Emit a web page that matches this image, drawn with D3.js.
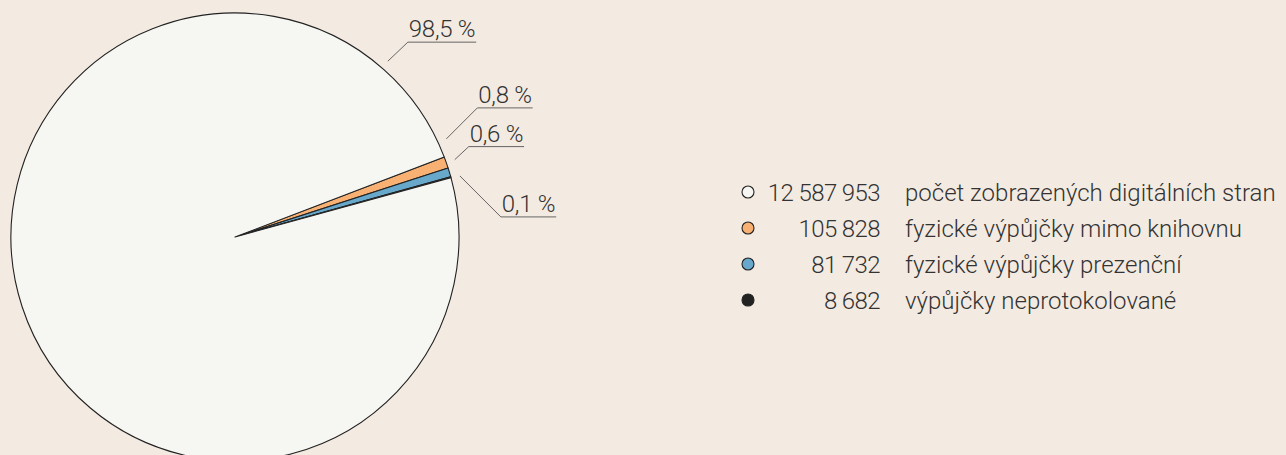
<!DOCTYPE html>
<html>
<head>
<meta charset="utf-8">
<script src="https://cdn.jsdelivr.net/npm/d3@7"></script>
<style>
  html, body { margin: 0; padding: 0; background: #f3ebe2; }
  svg { display: block; }
  text { font-family: Roboto, "Noto Sans", sans-serif; font-weight: 300; fill: #333; }
</style>
</head>
<body>
<svg id="chart"></svg>
<script>
// data, in the order the pie draws it (clockwise from the orange wedge)
var categories = ['fyzické výpůjčky mimo knihovnu', 'fyzické výpůjčky prezenční',
                  'výpůjčky neprotokolované', 'počet zobrazených digitálních stran'];
var values = [105828, 81732, 8682, 12587953];
var percentLabels = ['0,8 %', '0,6 %', '0,1 %', '98,5 %'];
var valueLabels = ['105 828', '81 732', '8 682', '12 587 953'];

// legend order differs from the drawing order
var legendOrder = [3, 0, 1, 2];

(function () {
  var width = 1286, height = 455;
  var cx = 235, cy = 237, radius = 224;
  var colors = ['#f8b073', '#68a8cb', '#222222', '#f6f6f2'];

  var svg = d3.select('#chart').attr('width', width).attr('height', height);

  var pie = d3.pie().sort(null)
      .startAngle(69.1 * Math.PI / 180)
      .endAngle(69.1 * Math.PI / 180 + 2 * Math.PI);
  var arc = d3.arc().innerRadius(0).outerRadius(radius);

  var g = svg.append('g').attr('transform', 'translate(' + cx + ',' + cy + ')');
  var arcs = pie(values);

  g.selectAll('path.slice')
    .data(arcs)
    .enter().append('path')
    .attr('class', 'slice')
    .attr('d', arc)
    .style('fill', function (d, i) { return colors[i]; })
    .style('stroke', '#222')
    .style('stroke-width', 1.1)
    .style('stroke-linejoin', 'round');

  // label leaders: angle on the rim, and the elbow offset from there
  var leaders = [
    {angle: 65.1, dx: 31, dy: -31},
    {angle: 70.6, dx: 14, dy: -13},
    {angle: 74.8, dx: 41, dy: 41},
    {angle: 41.0, dx: 20, dy: -19}
  ];
  var leaderR = radius + 9;

  leaders.forEach(function (l, i) {
    var a = l.angle * Math.PI / 180;
    var x0 = Math.sin(a) * leaderR, y0 = -Math.cos(a) * leaderR;
    var x1 = x0 + l.dx, y1 = y0 + l.dy;

    var t = g.append('text')
      .attr('x', x1 + 1)
      .attr('y', y1 - 5)
      .style('font-size', '24px')
      .style('letter-spacing', '-0.3px')
      .text(percentLabels[i]);
    var w = t.node().getComputedTextLength();

    g.append('path')
      .attr('d', 'M' + x0 + ',' + y0 + 'L' + x1 + ',' + y1 + 'L' + (x1 + w + 2) + ',' + y1)
      .style('fill', 'none')
      .style('stroke', '#555')
      .style('stroke-width', 0.9);
  });

  // legend
  var legend = svg.append('g').attr('transform', 'translate(748,192)');
  var rowH = 36;
  var rows = legend.selectAll('g.row')
      .data(legendOrder)
      .enter().append('g')
      .attr('class', 'row')
      .attr('transform', function (d, i) { return 'translate(0,' + (i * rowH) + ')'; });

  rows.append('circle')
    .attr('r', 6)
    .style('fill', function (d) { return colors[d]; })
    .style('stroke', '#222')
    .style('stroke-width', 1.1);

  rows.append('text')
    .attr('x', 132)
    .attr('dy', '0.36em')
    .style('font-size', '24px')
    .style('letter-spacing', '-0.6px')
    .style('text-anchor', 'end')
    .text(function (d) { return valueLabels[d]; });

  rows.append('text')
    .attr('x', 157)
    .attr('dy', '0.36em')
    .style('font-size', '24px')
    .text(function (d) { return categories[d]; });
})();
</script>
</body>
</html>
